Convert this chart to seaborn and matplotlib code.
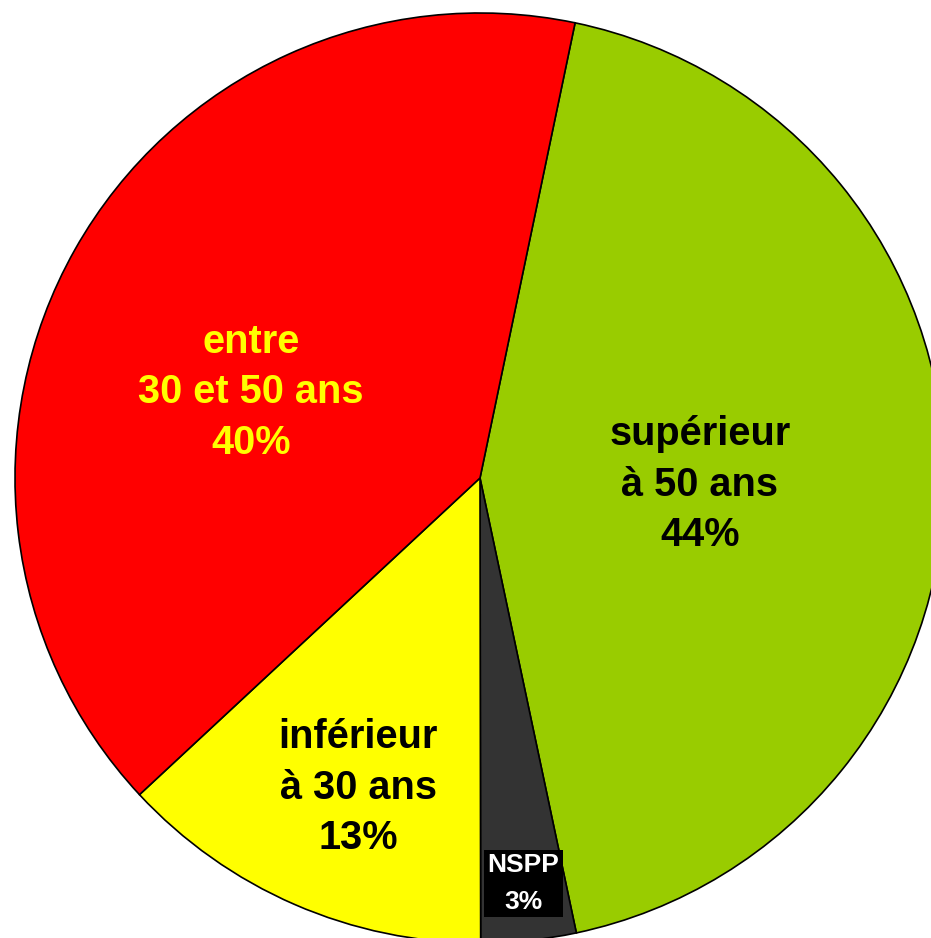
import matplotlib
matplotlib.use("Agg")
import matplotlib.pyplot as plt
import seaborn as sns

# data (slice sizes, labels as printed)
categories = ["supérieur\nà 50 ans", "NSPP", "inférieur\nà 30 ans", "entre\n30 et 50 ans"]
values = [43.4, 3.3, 13.1, 40.2]
pct_labels = ["44%", "3%", "13%", "40%"]
colors = ["#99CC00", "#333333", "#FFFF00", "#FF0000"]
text_colors = ["black", "white", "black", "#FFFF00"]

sns.set_style("white")
plt.rcParams['font.family'] = ['Liberation Sans', 'DejaVu Sans']

fig = plt.figure(figsize=(9.31, 9.38), dpi=100)
ax = fig.add_axes([0, 0, 1, 1])

wedges, _ = ax.pie(
    values,
    colors=colors,
    startangle=78.2,
    counterclock=False,
    radius=1,
    wedgeprops=dict(edgecolor="black", linewidth=1.2),
)

# label positions (data coords, radius = 1)
label_pos = [(0.473, -0.014), (0.093, -0.872), (-0.262, -0.666), (-0.492, 0.184)]
for cat, pct, col, (x, y) in zip(categories, pct_labels, text_colors, label_pos):
    if cat == "NSPP":
        ax.text(x, y, f"{cat}\n{pct}", ha="center", va="center", color=col,
                fontsize=19, fontweight="bold", linespacing=1.65,
                bbox=dict(facecolor="black", edgecolor="none", pad=2.5))
    else:
        ax.text(x, y, f"{cat}\n{pct}", ha="center", va="center", color=col,
                fontsize=28.6, fontweight="bold", linespacing=1.42)

ax.set_xlim(-480 / 465, 451 / 465)
ax.set_ylim(-460 / 465, 478 / 465)
ax.axis("off")

fig.savefig("out.png", dpi=100, facecolor="white")
